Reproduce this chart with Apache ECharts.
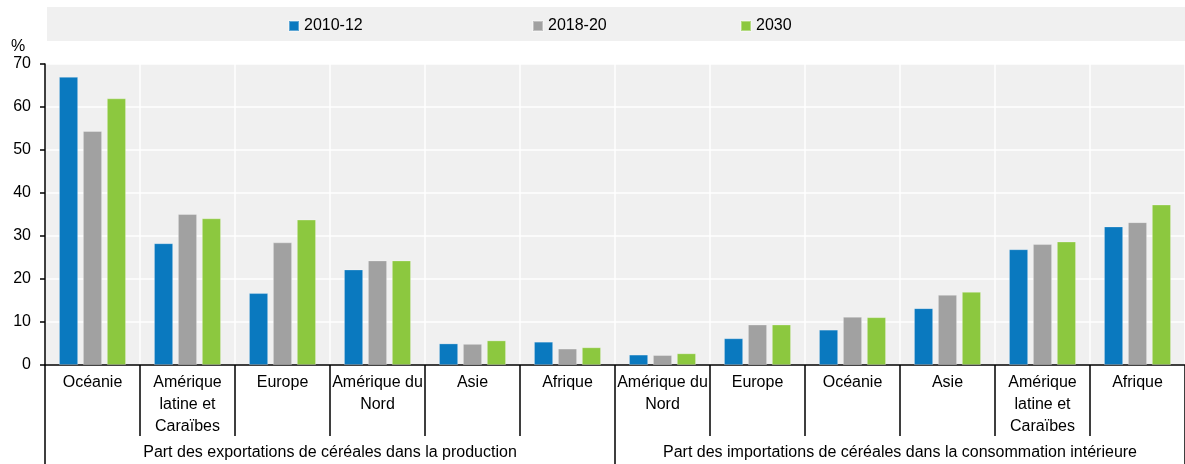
<!DOCTYPE html>
<html>
<head>
<meta charset="utf-8">
<script src="https://cdn.jsdelivr.net/npm/echarts@6/dist/echarts.min.js"></script>
<style>
  html, body { margin: 0; padding: 0; background: #fff; }
  #chart { width: 1185px; height: 464px; }
</style>
</head>
<body>
<div id="chart"></div>
<script>
// régions (12 catégories, 2 groupes)
var categories = ['Océanie', 'Amérique\nlatine et\nCaraïbes', 'Europe', 'Amérique du\nNord', 'Asie', 'Afrique',
                  'Amérique du\nNord', 'Europe', 'Océanie', 'Asie', 'Amérique\nlatine et\nCaraïbes', 'Afrique'];
var groups = ['Part des exportations de céréales dans la production',
              'Part des importations de céréales dans la consommation intérieure'];

// valeurs en %
var values2010 = [67.0, 28.3, 16.7, 22.2, 5.0, 5.4, 2.4, 6.2, 8.2, 13.2, 26.9, 32.2];
var values2018 = [54.4, 35.1, 28.5, 24.3, 4.9, 3.8, 2.3, 9.4, 11.2, 16.3, 28.1, 33.2];
var values2030 = [62.0, 34.1, 33.8, 24.3, 5.7, 4.1, 2.7, 9.4, 11.1, 17.0, 28.7, 37.3];

var yTicks = [0, 10, 20, 30, 40, 50, 60, 70];

var font = '"Liberation Sans", Arial, sans-serif';
var fs = 16;
var colors = ['#0a79bf', '#a1a1a1', '#8cc83f'];

var myChart = echarts.init(document.getElementById('chart'));

function legendAt(name, left) {
    return {
        data: [name],
        left: left,
        top: 18,
        padding: 0,
        itemWidth: 10,
        itemHeight: 10,
        icon: 'rect',
        textStyle: { fontFamily: font, fontSize: fs, color: '#000' }
    };
}

myChart.setOption({
    animation: false,
    color: colors,
    textStyle: { fontFamily: font },
    title: {
        text: '%',
        left: 11,
        top: 39,
        padding: 0,
        textStyle: { fontFamily: font, fontSize: fs, fontWeight: 'normal', color: '#000' }
    },
    graphic: [{
        type: 'rect',
        z: -1,
        shape: { x: 47, y: 7, width: 1140, height: 34 },
        style: { fill: '#f0f0f0' }
    }],
    legend: [
        legendAt('2010-12', 288),
        legendAt('2018-20', 532),
        legendAt('2030', 740)
    ],
    grid: {
        left: 45,
        right: 0,
        top: 64,
        bottom: 99,
        show: true,
        backgroundColor: '#f0f0f0',
        borderWidth: 0
    },
    xAxis: [{
        type: 'category',
        data: categories,
        axisLine: { show: true, lineStyle: { color: '#000', width: 1.5 } },
        axisTick: { show: true, length: 71, interval: 0, lineStyle: { color: '#000', width: 1.5 } },
        splitLine: { show: true, interval: 0, lineStyle: { color: '#fff', width: 1.5 } },
        axisLabel: {
            interval: 0,
            margin: 7,
            fontSize: fs,
            lineHeight: 22,
            color: '#000',
            fontFamily: font,
            verticalAlign: 'top'
        }
    }, {
        type: 'category',
        data: groups,
        position: 'bottom',
        axisLine: { show: false },
        axisTick: { show: true, length: 99, interval: 0, lineStyle: { color: '#000', width: 1.5 } },
        splitLine: { show: false },
        axisLabel: {
            interval: 0,
            margin: 80,
            fontSize: fs,
            color: '#000',
            fontFamily: font,
            verticalAlign: 'top'
        }
    }],
    yAxis: {
        type: 'value',
        min: yTicks[0],
        max: yTicks[yTicks.length - 1],
        interval: 10,
        axisLine: { show: true, lineStyle: { color: '#000', width: 1.5 } },
        axisTick: { show: true, length: 5, lineStyle: { color: '#000', width: 1.5 } },
        splitLine: { show: true, lineStyle: { color: '#fff', width: 1.5 } },
        axisLabel: { margin: 14, fontSize: fs, color: '#000', fontFamily: font }
    },
    series: [
        { name: '2010-12', type: 'bar', data: values2010, barWidth: 19, barGap: '26%',
          itemStyle: { borderColor: 'rgba(255,255,255,0.35)', borderWidth: 0.8 } },
        { name: '2018-20', type: 'bar', data: values2018, barWidth: 19, barGap: '26%',
          itemStyle: { borderColor: 'rgba(255,255,255,0.35)', borderWidth: 0.8 } },
        { name: '2030', type: 'bar', data: values2030, barWidth: 19, barGap: '26%',
          itemStyle: { borderColor: 'rgba(255,255,255,0.35)', borderWidth: 0.8 } }
    ]
});
</script>
</body>
</html>
